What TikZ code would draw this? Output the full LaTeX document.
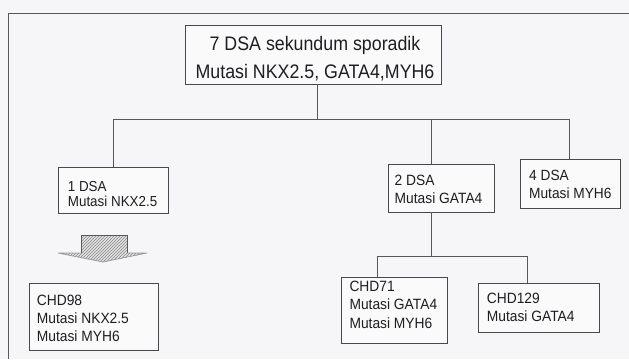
\documentclass[tikz,border=0pt]{standalone}
\usepackage{fontspec}
\usepackage{graphicx}
\setmainfont{Liberation Sans}
\usetikzlibrary{patterns}
\definecolor{bgc}{HTML}{F6F6F8}
\definecolor{linec}{HTML}{5A5558}
\definecolor{boxc}{HTML}{48484C}
\definecolor{txtc}{HTML}{1E1E22}
\newcommand{\txtlines}[3]{\scalebox{1}[1.08]{\fontsize{#1}{#2}\selectfont\vtop{\halign{##\hfil\cr #3\cr}}}}
\newcommand{\txtcenter}[3]{\scalebox{1}[1.1]{\fontsize{#1}{#2}\selectfont\vtop{\halign{\hfil##\hfil\cr #3\cr}}}}
\begin{document}
\begin{tikzpicture}[x=1pt,y=-1pt,
  box/.style={draw=boxc, line width=0.8pt, inner sep=0pt, fill=white!40!bgc},
  conn/.style={draw=linec, line width=0.8pt},
  frameline/.style={draw=linec, line width=0.9pt},
  label/.style={inner sep=0pt, anchor=base west, text=txtc},
  clabel/.style={inner sep=0pt, anchor=base, text=txtc}]
\useasboundingbox[fill=bgc] (0,0) rectangle (629,359);
% outer frame (top and left edges)
\coordinate (fTL) at (8,13);
\coordinate (fTR) at (629,13);
\coordinate (fBL) at (8,359);
\draw[frameline] (fTR) -- (fTL) -- (fBL);
% boxes
\node[box, minimum width=256pt, minimum height=59pt] (top) at (313,54.5) {};
\node[box, minimum width=110pt, minimum height=46pt] (b1) at (113,190) {};
\node[box, minimum width=106pt, minimum height=48pt] (b2) at (441,188) {};
\node[box, minimum width=100pt, minimum height=49pt] (b4) at (570,183.5) {};
\node[box, minimum width=129pt, minimum height=67pt] (c98) at (93.5,316.5) {};
\node[box, minimum width=106pt, minimum height=66pt] (c71) at (394,310) {};
\node[box, minimum width=121pt, minimum height=49pt] (c129) at (538.5,307.5) {};
% texts
\node[clabel] (ttop) at (315,50.5) {\txtcenter{17.8}{25.9}{7 DSA sekundum sporadik\cr Mutasi NKX2.5, GATA4,MYH6}};
\node[label] (t1) at (67.7,191) {\txtlines{13.4}{13.9}{1 DSA\cr Mutasi NKX2.5}};
\node[label] (t2) at (394.5,185.5) {\txtlines{13.8}{16.3}{2 DSA\cr Mutasi GATA4}};
\node[label] (t4) at (529,180.5) {\txtlines{13.7}{16.7}{4 DSA\cr Mutasi MYH6}};
\node[label] (t98) at (36.7,305.7) {\txtlines{13.8}{16.7}{CHD98\cr Mutasi NKX2.5\cr Mutasi MYH6}};
\node[label] (t71) at (349.3,291.7) {\txtlines{13.8}{16.9}{CHD71\cr Mutasi GATA4\cr Mutasi MYH6}};
\node[label] (t129) at (486.7,303.3) {\txtlines{13.8}{17}{CHD129\cr Mutasi GATA4}};
% connectors, first level
\coordinate (h0) at (317,119);
\coordinate (h1) at (113,119);
\coordinate (h2) at (431,119);
\coordinate (h3) at (569,119);
\draw[conn] (top.south -| h0) -- (h0);
\draw[conn] (h1) -- (h3);
\draw[conn] (h1) -- (b1.north -| h1);
\draw[conn] (h2) -- (b2.north -| h2);
\draw[conn] (h3) -- (b4.north -| h3);
% connectors, second level
\coordinate (g0) at (431,256);
\coordinate (g1) at (377,256);
\coordinate (g2) at (527,256);
\draw[conn] (b2.south -| g0) -- (g0);
\draw[conn] (g1) -- (g2);
\draw[conn] (g1) -- (c71.north -| g1);
\draw[conn] (g2) -- (c129.north -| g2);
% hatched block arrow
\path[fill=black!12] (81,235) -- (127,235) -- (127,253) -- (147,253) -- (103,262) -- (58,253) -- (81,253) -- cycle;
\path[pattern=north east lines, pattern color=black!45] (81,235) -- (127,235) -- (127,253) -- (147,253) -- (103,262) -- (58,253) -- (81,253) -- cycle;
\draw[draw=black!65, line width=0.7pt] (81,253) -- (81,235) -- (127,235) -- (127,253);
\draw[draw=black!40, line width=0.7pt] (58,253) -- (81,253) (127,253) -- (147,253) (58,253) -- (103,262) -- (147,253);
\end{tikzpicture}
\end{document}
